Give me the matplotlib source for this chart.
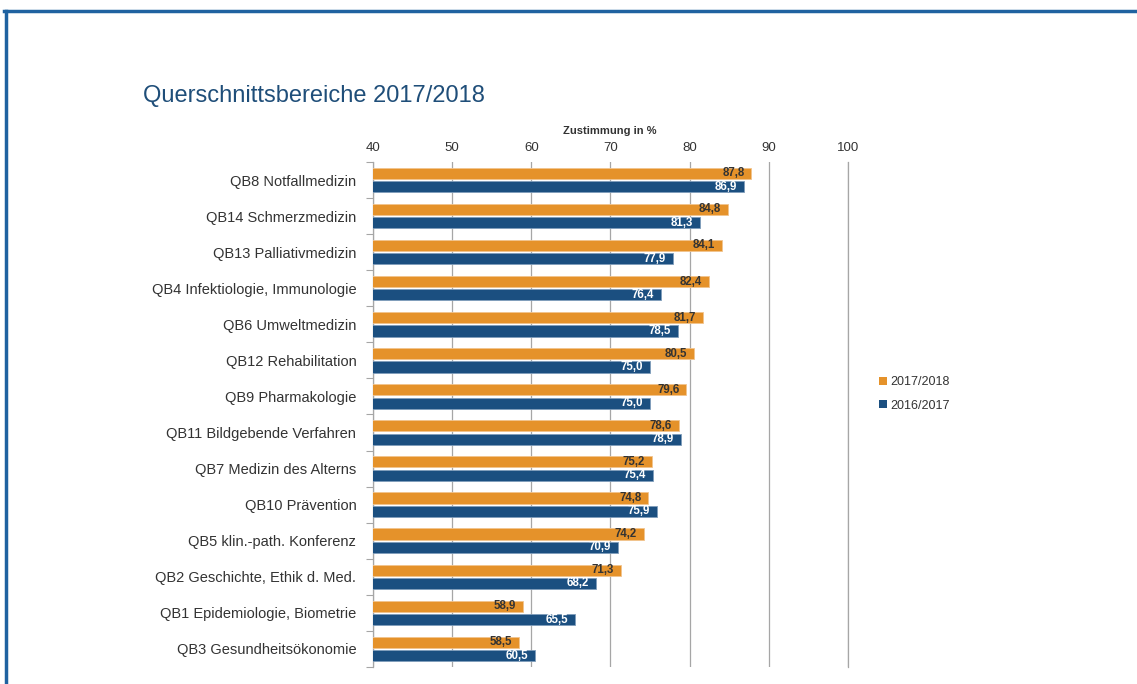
import numpy as np
import matplotlib
matplotlib.use('Agg')
import matplotlib.pyplot as plt
from matplotlib.lines import Line2D
from matplotlib.patches import Patch

plt.rcParams['font.family'] = ['Liberation Sans', 'DejaVu Sans']

C = {'or': '#E5922A', 'bl': '#1B4F80', 'tx': '#333333', 'title': '#1F4E79',
     'grid': '#A6A6A6', 'frame': '#1F62A0'}

categories = ['QB8 Notfallmedizin', 'QB14 Schmerzmedizin', 'QB13 Palliativmedizin',
              'QB4 Infektiologie, Immunologie', 'QB6 Umweltmedizin',
              'QB12 Rehabilitation', 'QB9 Pharmakologie', 'QB11 Bildgebende Verfahren',
              'QB7 Medizin des Alterns', 'QB10 Prävention', 'QB5 klin.-path. Konferenz',
              'QB2 Geschichte, Ethik d. Med.', 'QB1 Epidemiologie, Biometrie',
              'QB3 Gesundheitsökonomie']
vals_2018 = [87.8, 84.8, 84.1, 82.4, 81.7, 80.5, 79.6, 78.6, 75.2, 74.8, 74.2, 71.3, 58.9, 58.5]
vals_2017 = [86.9, 81.3, 77.9, 76.4, 78.5, 75.0, 75.0, 78.9, 75.4, 75.9, 70.9, 68.2, 65.5, 60.5]
series = ['2017/2018', '2016/2017']
xticks = [40, 50, 60, 70, 80, 90, 100]

fig = plt.figure(figsize=(11.37, 6.84), dpi=100)
ax = fig.add_axes([0.328, 0.0249, 0.4178, 0.7383])

y = np.arange(len(categories))
h = 0.31
ax.barh(y - 0.185, vals_2018, height=h, color=C['or'], edgecolor='#F2C48E', lw=0.6, zorder=3)
ax.barh(y + 0.185, vals_2017, height=h, color=C['bl'], edgecolor='#7F9DBB', lw=0.6, zorder=3)

def fmt(v):
    return f'{v:.1f}'.replace('.', ',')

for i in range(len(categories)):
    ax.annotate(fmt(vals_2018[i]), (vals_2018[i], y[i] - 0.185), xytext=(-5, 0),
                textcoords='offset points', ha='right', va='center',
                fontsize=8.3, weight='bold', color=C['tx'], zorder=4)
    ax.annotate(fmt(vals_2017[i]), (vals_2017[i], y[i] + 0.185), xytext=(-5, 0),
                textcoords='offset points', ha='right', va='center',
                fontsize=8.3, weight='bold', color='white', zorder=4)

ax.set_xlim(40, 100)
ax.set_ylim(len(categories) - 0.5, -0.5)
ax.set_xticks(xticks)
ax.xaxis.tick_top()
ax.tick_params(axis='x', length=0, labelsize=9.5, labelcolor=C['tx'], pad=6)
ax.set_yticks(y)
ax.set_yticklabels(categories, fontsize=10.5, color=C['tx'])
ax.set_yticks(np.arange(len(categories) + 1) - 0.5, minor=True)
ax.tick_params(axis='y', which='major', length=0, pad=12)
ax.tick_params(axis='y', which='minor', length=5, color=C['grid'], width=0.8)
ax.grid(axis='x', color=C['grid'], lw=0.9, zorder=0)
ax.axvline(100, color=C['grid'], lw=0.9, zorder=0, clip_on=False)
for s in ['top', 'right', 'bottom']:
    ax.spines[s].set_visible(False)
ax.spines['left'].set_color(C['grid'])
ax.spines['left'].set_linewidth(0.9)

fig.text(610 / 1137, 1 - 131 / 684, 'Zustimmung in %', ha='center', va='center',
         fontsize=8, weight='bold', color=C['tx'])
fig.text(143 / 1137, 1 - 96 / 684, 'Querschnittsbereiche 2017/2018', ha='left',
         va='center', fontsize=17, color=C['title'])

handles = [Patch(facecolor=C['or'], edgecolor='none'), Patch(facecolor=C['bl'], edgecolor='none')]
fig.legend(handles, series, loc='center left', bbox_to_anchor=(868 / 1137, 1 - 394 / 684),
           frameon=False, fontsize=9, handlelength=0.6, handleheight=0.6,
           handletextpad=0.3, labelspacing=0.9, labelcolor=C['tx'])

# page frame: top and left rule
fig.add_artist(Line2D([4 / 1137, 1], [1 - 11 / 684] * 2, color=C['frame'], lw=2.5,
                      transform=fig.transFigure))
fig.add_artist(Line2D([5.5 / 1137] * 2, [0, 1 - 11 / 684], color=C['frame'], lw=2.5,
                      transform=fig.transFigure))

fig.savefig('out.png', dpi=100, facecolor='white')
